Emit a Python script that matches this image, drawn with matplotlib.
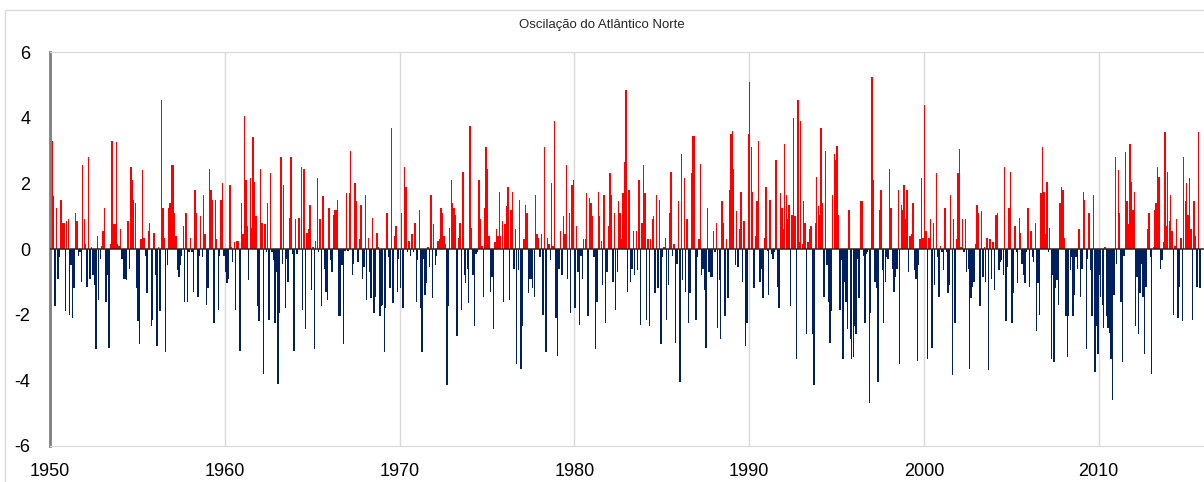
import numpy as np
import matplotlib
matplotlib.use("Agg")
import matplotlib.pyplot as plt
from matplotlib.patches import Rectangle

# Monthly North Atlantic Oscillation index, starting Jan 1950
nao_1950_1955 = [0.55, 3.3, 1.6, -1.75, 1.25, -0.9, -0.25, 1.5, 0.8, 0.8, -1.9, 0.85, 0.9, -2.0, -0.5,
                 -2.1, -1.2, 1.1, 0.85, -0.2, -0.1, -1.0, 2.55, 0.9, 0.15, -1.15, 2.8, -0.9, 0.05, -0.8,
                 -1.1, -3.05, 0.4, -1.55, -0.3, 0.1, 0.55, 1.25, -1.6, -0.8, -3.0, 0.15, 3.3, 0.75, 0.75,
                 3.25, 0.15, 0.1, 0.6, -0.3, -0.9, -0.9, -0.95, 0.85, -0.6, 2.5, 2.1, 1.5, 1.4, -1.2,
                 -2.2, -2.9]
nao_1955_1960 = [0.3, 2.4, 0.35, -0.2, -1.35, 0.55, 0.8, -2.35, -2.15, 0.5, -0.8, -2.95, 0.05, -1.9, 4.55,
                 1.25, 0.35, -3.15, -0.5, 1.25, 1.4, 2.55, 2.55, 1.1, 0.4, -0.65, -0.85, -0.5, -0.2, 0.7,
                 -1.6, 1.1, -1.6, -0.1, 0.35, -0.1, -1.3, 1.8, 1.1, -1.45, -0.2, 1.0, -0.25, 1.65, 0.45,
                 -1.7, -1.2, 2.45, 1.8, 1.5, -2.25, 1.5, 0.3, -1.85, -0.2, 1.5, 2.0, -0.2, -0.7, -1.05,
                 -0.9, 1.95, 0.05, -0.4, 0.2, -1.85, 0.25]
nao_1960_1966 = [0.25, -3.1, 1.4, 0.45, 4.05, 2.1, 0.7, -0.95, 2.15, 0.65, 3.4, 2.05, 1.0, -1.75, -2.2,
                 2.45, 0.8, -3.8, 0.75, -0.1, 1.4, -2.15, 2.3, -0.1, -0.35, -2.25, -0.7, -4.1, -1.95, 2.8,
                 -0.45, 1.95, -1.8, -0.3, -1.0, 0.95, 2.8, -0.15, -3.1, 0.9, -0.15, 0.95, 0.95, 2.5, -1.85,
                 2.45, -2.45, 0.5, 0.6, 1.35, -1.25, 0.05, -3.05, 0.25, 2.15, -0.1, 0.9, -1.75, 1.6, -0.6,
                 -1.3, -1.55, 1.25, -0.35, -0.7, 1.05, 1.2]
nao_1966_1971 = [1.2, 1.5, -2.05, -2.05, -0.5, -2.9, -0.05, 1.7, -0.05, 1.7, 3.0, -0.8, -0.45, 2.0, 1.45,
                 -0.4, 0.3, 1.35, -0.9, -0.55, 1.65, -1.55, 0.35, -0.7, -1.5, 0.95, -1.95, -1.45, 0.5, 0.05,
                 -2.05, -1.75, -1.7, -3.15, -1.8, 1.1, -0.25, -1.2, 3.7, -1.65, 0.4, 0.7, -1.3, -0.3, -1.2,
                 1.1, -1.8, 2.5, 1.9, -0.1, 0.25, -0.2, 0.45, -0.1, 0.8, -1.6, -0.35, 1.2, -1.8, -3.15,
                 -0.3, -1.4, -1.05, 0.05, -0.55, 1.65, -1.5]
nao_1971_1977 = [0.75, -0.5, -0.2, 0.25, 0.3, 1.25, 1.1, 0.4, 0.15, -4.15, -1.75, 0.65, 2.1, 1.4, 1.25,
                 1.05, -2.65, 0.35, 0.8, -1.85, 2.35, -0.8, -1.05, -0.6, -1.65, 3.75, 0.65, -0.8, -2.35, -0.15,
                 -0.1, 2.1, 0.9, 0.1, -1.45, 1.25, 3.1, 2.45, 0.4, -1.3, -0.85, -2.45, 0.2, 0.6, 0.4,
                 1.75, 0.4, 0.85, -1.6, 0.75, 1.3, 1.9, -1.55, 1.2, 1.75, -0.6, 0.6, -3.5, -0.65, 1.5,
                 -3.65, -2.35, 0.3, 1.35, 1.1, -1.35, -0.9]
nao_1977_1983 = [-0.9, -1.2, -1.45, 1.65, 0.45, 0.35, -0.25, 0.45, -2.0, 3.1, -3.15, 0.35, 0.15, -0.35, 2.0,
                 0.1, 3.9, -2.1, -3.25, -0.6, 0.55, -0.8, 1.0, 0.45, 2.55, -0.9, 1.1, -1.95, 1.95, 2.1,
                 -1.8, 0.7, -0.7, -2.3, -0.2, -0.9, 0.3, 0.3, 1.7, -2.05, 1.55, 1.4, 1.0, -0.25, -3.05,
                 -1.6, 1.75, 1.0, 0.25, -1.1, 1.65, -2.25, -0.7, 0.7, 2.3, 1.65, -1.0, 1.1, -1.85, -0.7,
                 1.45, 1.1, 0.3, 1.7, 2.65, 4.85, -1.3]
nao_1983_1988 = [1.8, -1.0, -0.6, 0.55, -0.8, 0.55, -0.65, 2.1, -2.3, 0.8, 2.55, 1.7, -2.15, 0.3, -2.35,
                 0.3, 0.9, 1.0, -1.35, 1.65, -1.2, 1.5, -2.9, -0.25, 0.05, 0.35, -2.15, -1.1, 1.1, 2.35,
                 -0.2, 0.15, -2.85, -0.45, 1.45, -4.05, 2.9, -0.95, 2.15, -1.3, 0.9, -2.25, -1.35, 2.3, 3.45,
                 3.45, -2.15, -0.25, 0.3, 2.6, -0.8, -0.6, -1.25, -3.0, 1.25, -0.7, -0.85, -0.85, 0.55, -0.1,
                 0.8, -2.4, -0.95, -2.75, 1.45, 0.8, -2.05]
nao_1988_1994 = [0.3, -1.5, 1.8, 3.5, 3.6, 2.45, -0.5, 1.15, -0.55, 0.6, 1.75, -1.0, 0.85, -2.95, -2.25,
                 3.5, 5.1, 3.1, 1.75, -1.2, 0.4, 1.45, 3.3, -1.0, -0.6, -1.5, 0.35, 1.9, -0.05, -1.4,
                 1.5, -0.15, -0.3, -0.1, 2.7, -1.15, -1.8, 1.7, 1.25, 0.6, 3.2, 1.65, 0.9, 1.35, -1.75,
                 1.05, 4.0, 1.0, -3.35, 4.55, 0.2, 3.9, 0.15, 1.45, 0.8, -2.6, 0.2, 0.6, 0.7, -2.6,
                 -4.15, 0.8, 2.2, 1.3, 1.05, 3.7, 1.4]
nao_1994_1999 = [-1.45, 3.0, -0.5, -1.6, -2.85, -1.9, 1.65, 2.9, 2.7, 3.15, 1.05, -1.85, -0.35, -3.35, -1.0,
                 -1.6, -2.45, 1.2, -2.75, -3.35, -3.3, -2.35, -2.6, -0.3, -1.5, 1.45, 1.45, -0.2, -2.25, -0.15,
                 -0.1, -4.7, -1.95, 5.25, 2.1, -1.0, -1.2, -4.05, 1.2, 1.8, -0.65, -2.25, -1.0, -0.25, -0.3,
                 2.45, 1.25, -0.6, -1.3, -0.85, -0.6, 1.8, -3.5, 1.35, 1.2, 1.95, 0.9, 1.8, -0.7, 0.4,
                 0.45, 1.4, -0.65, -0.9, -3.4, -0.5, 0.3]
nao_1999_2005 = [2.15, 0.35, 4.4, 0.55, -3.35, 0.35, 0.9, -3.0, 0.8, -1.1, 2.3, -0.25, -1.45, 0.1, -0.1,
                 -0.65, 1.25, -0.1, -1.35, -1.1, 1.65, -3.85, 0.9, -2.25, 0.3, 2.3, 3.05, 0.05, 0.9, -0.1,
                 0.9, -0.7, -0.6, -3.65, -1.5, -1.15, -1.0, 0.15, 1.35, 1.1, -1.75, 1.15, -0.85, 0.05, -1.0,
                 0.35, -3.7, 0.3, -0.9, 0.2, -1.25, 1.05, 1.1, -0.65, -0.4, -0.35, -0.8, 2.5, -2.2, -0.55,
                 1.25, 2.35, -2.25, -1.35, 0.7, -0.1, -1.05]
nao_2005_2011 = [0.95, 0.5, -0.45, -0.8, -1.05, -0.1, 1.25, -1.15, 0.55, -0.25, -0.4, 0.8, -2.5, -1.05, -2.0,
                 1.7, 3.1, 1.75, 0.45, 2.05, -0.1, 0.65, -3.35, -0.8, -3.45, -1.2, -0.95, -1.7, 1.4, 1.9,
                 1.8, 0.35, -2.05, -3.3, -2.05, -0.65, -0.25, -2.05, -1.4, -0.25, -0.6, 0.6, -1.45, -0.6, 1.75,
                 1.5, -3.05, -0.3, 1.1, -0.65, -2.05, 1.65, -3.75, -2.35, -3.2, -0.8, -1.45, -1.7, -2.4, 0.05,
                 -2.05, -2.4, -2.55, -3.35, -4.6, -1.4, 2.8]
nao_2011_2015 = [-0.45, 2.4, 1.1, -1.6, -3.45, -0.2, 2.95, 1.45, 0.75, 3.2, 2.05, 1.2, 1.75, -2.35, -0.85,
                 -2.6, -1.35, -0.45, -1.45, -3.2, -1.15, 0.6, 1.1, -0.25, -3.8, 0.05, 1.2, 1.4, 2.5, 2.2,
                 -0.6, -0.35, 0.2, 3.55, 0.7, 2.35, 0.85, 1.65, 0.55, -2.0, 0.1, 0.9, -2.1, -1.15, 0.35,
                 -2.2, 2.8, 1.45, 2.0, 1.05, 2.15, 0.6, -2.15, 1.45, 0.4, -1.15, 3.55, -1.2]

start_year = 1950
x_ticks = [1950, 1960, 1970, 1980, 1990, 2000, 2010]
y_ticks = [-6, -4, -2, 0, 2, 4, 6]
title = "Oscilação do Atlântico Norte"

values = np.array(nao_1950_1955 + nao_1955_1960 + nao_1960_1966 + nao_1966_1971 +
                  nao_1971_1977 + nao_1977_1983 + nao_1983_1988 + nao_1988_1994 +
                  nao_1994_1999 + nao_1999_2005 + nao_2005_2011 + nao_2011_2015)
t = start_year + (np.arange(len(values)) + 0.5) / 12.0

plt.rcParams['font.family'] = ['Liberation Sans', 'DejaVu Sans']

fig = plt.figure(figsize=(12.04, 4.82), dpi=100)
ax = fig.add_axes([50 / 1204, 1 - 446 / 482, 1 - 50 / 1204 + 0.001, (446 - 52) / 482])

colors = np.where(values >= 0, "#FF0000", "#002060")
ax.bar(t, values, width=0.95 / 12, color=colors, linewidth=0, zorder=2)
ax.axhline(0, color="#262626", linewidth=1.1, zorder=3)

ax.set_xlim(1950, 2016.1)
ax.set_ylim(-6, 6)
ax.set_xticks(x_ticks)
ax.set_xticklabels([str(v) for v in x_ticks])
ax.set_yticks(y_ticks)
ax.set_yticklabels([str(v) for v in y_ticks])
ax.tick_params(axis="both", length=0, labelsize=13, colors="black")
ax.tick_params(axis="x", pad=12)
ax.tick_params(axis="y", pad=14)

ax.grid(axis="x", color="#D9D9D9", linewidth=1.0, zorder=0)
ax.set_axisbelow(True)
ax.spines["left"].set_color("#808080")
ax.spines["left"].set_linewidth(2.0)
ax.spines["top"].set_color("#D9D9D9")
ax.spines["bottom"].set_color("#D9D9D9")
ax.spines["right"].set_visible(False)

fig.text(0.5, 1 - 25 / 482, title, ha="center", va="center", fontsize=9.5, color="#262626")

border = Rectangle((5 / 1204, -0.2), 1.2, (1 - 10 / 482) + 0.2, transform=fig.transFigure,
                   fill=False, edgecolor="#D9D9D9", linewidth=1.0, clip_on=False)
fig.patches.append(border)

fig.savefig("out.png", dpi=100)
